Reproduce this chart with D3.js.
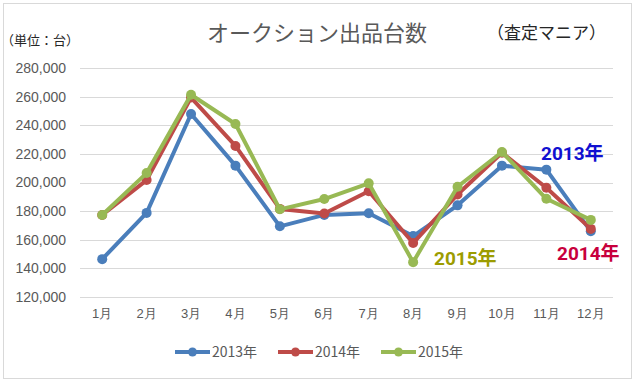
<!DOCTYPE html>
<html lang="ja">
<head>
  <meta charset="UTF-8" />
  <title>オークション出品台数</title>
  <script src="https://d3js.org/d3.v7.min.js"></script>
  <style>
    body { margin: 0; background: #fff; }
    svg { display: block; font-family: "Noto Sans CJK JP", "Noto Sans", sans-serif; }
    .tick text { fill: #595959; font-size: 13px; }
    .yaxis .tick text { font-size: 14px; }
    .grid line { stroke: #d9d9d9; }
  </style>
</head>
<body>
  <svg width="637" height="383"></svg>
  <script>
    const months = ["1月", "2月", "3月", "4月", "5月", "6月", "7月", "8月", "9月", "10月", "11月", "12月"];
    const years = ["2013年", "2014年", "2015年"];
    const v2013 = [146300, 178700, 248000, 211800, 169300, 177300, 178500, 162500, 184000, 211800, 209000, 165800];
    const v2014 = [177200, 201700, 259500, 225600, 181500, 178300, 193900, 157600, 191600, 220800, 196300, 167500];
    const v2015 = [177200, 206600, 261500, 241000, 181200, 188400, 199400, 144200, 197000, 221400, 188600, 173800];
    const yTicks = [120000, 140000, 160000, 180000, 200000, 220000, 240000, 260000, 280000];
    const colors = ["#4a7ebb", "#be4b48", "#98b954"];

    const series = [v2013, v2014, v2015];

    const svg = d3.select("svg");
    svg.append("rect")
      .attr("x", 3.5).attr("y", 3.5).attr("width", 628).attr("height", 375)
      .attr("fill", "#fff").attr("stroke", "#d9d9d9");

    const x = d3.scaleBand().domain(months).range([80, 613]);
    const y = d3.scaleLinear().domain([120000, 280000]).range([296.7, 68.3]);

    // grid
    svg.append("g").attr("class", "grid")
      .selectAll("line").data(yTicks).join("line")
      .attr("x1", 80).attr("x2", 613)
      .attr("y1", d => Math.round(y(d)) + 0.5).attr("y2", d => Math.round(y(d)) + 0.5);

    const yAxis = svg.append("g").attr("class", "yaxis").attr("transform", "translate(80,0)")
      .call(d3.axisLeft(y).tickValues(yTicks).tickFormat(d3.format(",")).tickSize(0).tickPadding(14));
    yAxis.select(".domain").remove();

    const xAxis = svg.append("g").attr("transform", "translate(0,296.7)")
      .call(d3.axisBottom(x).tickSize(0).tickPadding(12));
    xAxis.select(".domain").remove();

    const line = d3.line()
      .x((d, i) => x(months[i]) + x.bandwidth() / 2)
      .y(d => y(d));

    series.forEach((vals, k) => {
      svg.append("path").datum(vals)
        .attr("fill", "none").attr("stroke", colors[k]).attr("stroke-width", 4)
        .attr("stroke-linejoin", "round")
        .attr("d", line);
      svg.append("g").selectAll("circle").data(vals).join("circle")
        .attr("cx", (d, i) => x(months[i]) + x.bandwidth() / 2)
        .attr("cy", d => y(d))
        .attr("r", 5)
        .attr("fill", colors[k]);
    });

    // title
    svg.append("text").attr("x", 317).attr("y", 41).attr("text-anchor", "middle")
      .attr("font-size", 22).attr("fill", "#595959").text("オークション出品台数");
    svg.append("text").attr("x", 487).attr("y", 39)
      .attr("font-size", 17).attr("fill", "#262626").text("（査定マニア）");
    svg.append("text").attr("x", 1).attr("y", 45)
      .attr("font-size", 13).attr("fill", "#262626").text("（単位：台）");

    // annotations
    const notes = [
      { t: "2013年", x: 541, y: 160, c: "#1010d0" },
      { t: "2014年", x: 557, y: 260, c: "#c8003c" },
      { t: "2015年", x: 434, y: 265, c: "#9c9c00" }
    ];
    svg.selectAll(".note").data(notes).join("text")
      .attr("class", "note")
      .attr("x", d => d.x).attr("y", d => d.y)
      .attr("font-size", 19).attr("font-weight", "bold")
      .attr("font-family", "Roboto, 'Noto Sans CJK JP', sans-serif")
      .attr("fill", d => d.c).text(d => d.t);

    // legend
    const legend = svg.append("g").selectAll("g").data(years).join("g")
      .attr("transform", (d, i) => `translate(${175 + i * 103},352)`);
    legend.append("line").attr("x1", 0).attr("x2", 35)
      .attr("stroke", (d, i) => colors[i]).attr("stroke-width", 4);
    legend.append("circle").attr("cx", 17.5).attr("r", 4.5)
      .attr("fill", (d, i) => colors[i]);
    legend.append("text").attr("x", 37).attr("y", 5)
      .attr("font-size", 14).attr("fill", "#595959").text(d => d);
  </script>
</body>
</html>
